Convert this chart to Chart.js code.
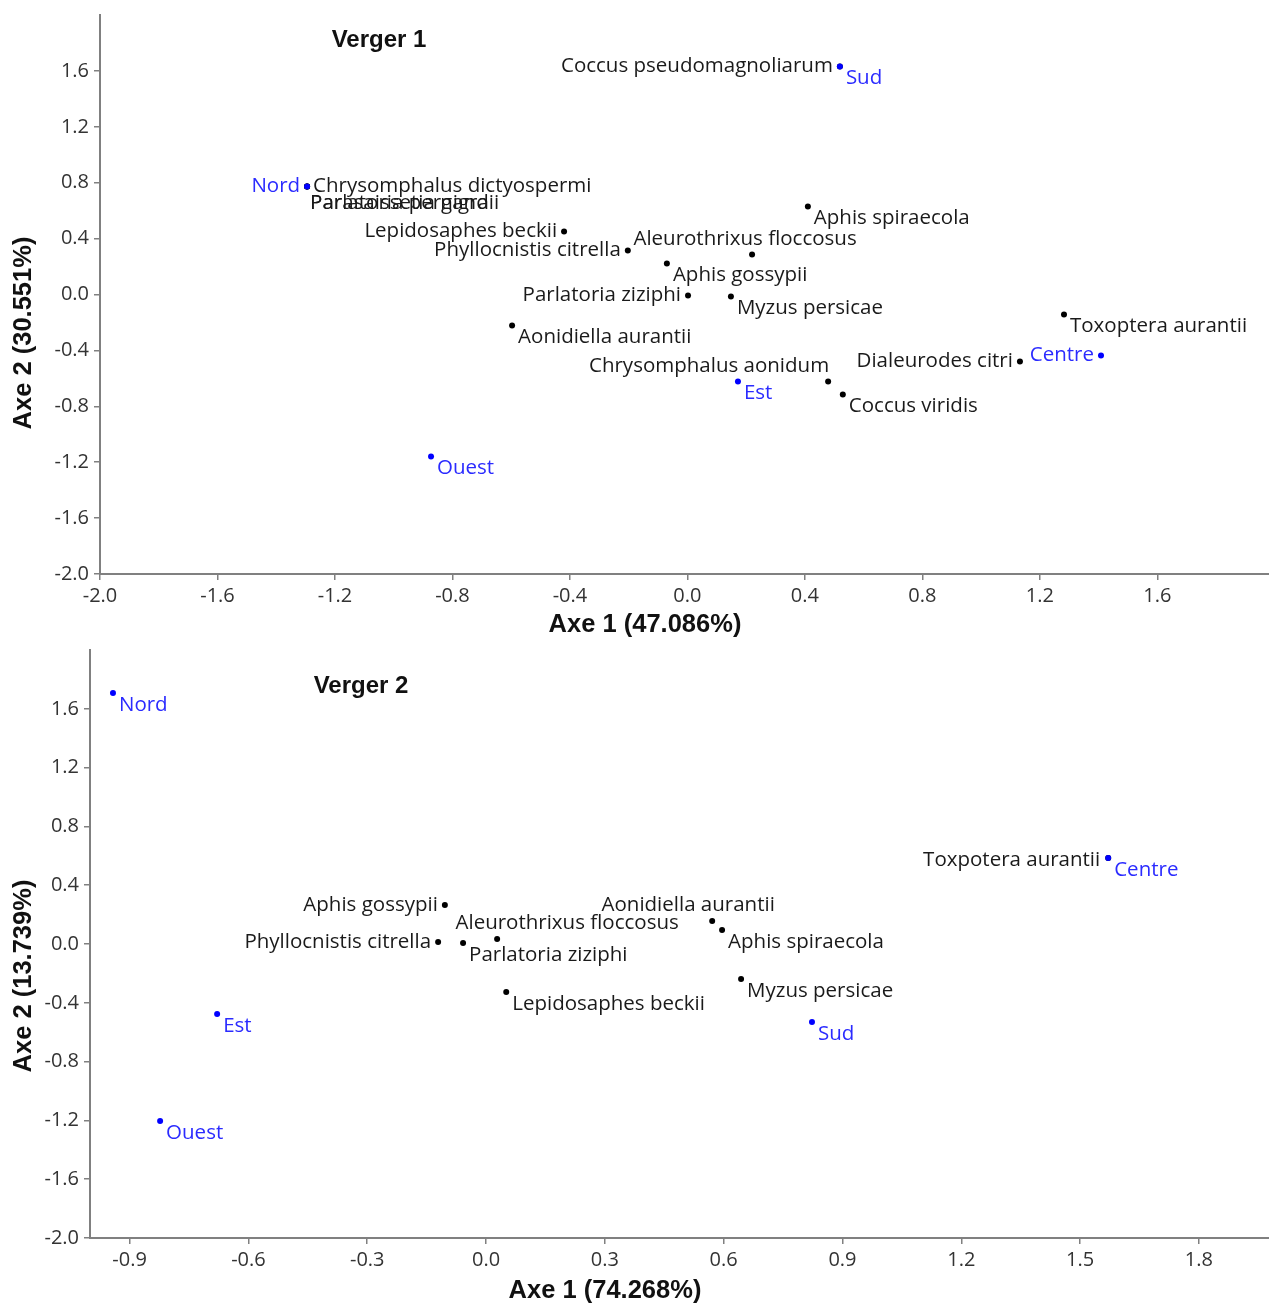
<!DOCTYPE html>
<html>
<head>
<meta charset="utf-8">
<script src="https://cdn.jsdelivr.net/npm/chart.js@4/dist/chart.umd.min.js"></script>
<style>
  html, body { margin:0; padding:0; background:#fff; }
  #w1 { position:absolute; left:0; top:0; width:1269px; height:640px; }
  #w2 { position:absolute; left:0; top:640px; width:1269px; height:665px; }
</style>
</head>
<body>
<div id="w1"><canvas id="c1"></canvas></div>
<div id="w2"><canvas id="c2"></canvas></div>
<script>
// ---------------- DATA ----------------
// Verger 1
const v1Title = 'Verger 1';
const v1AxisX = 'Axe 1 (47.086%)';
const v1AxisY = 'Axe 2 (30.551%)';
const v1Species = ['Coccus pseudomagnoliarum','Chrysomphalus dictyospermi','Parlatoria pergandii','Parasaissetia nigra','Lepidosaphes beckii','Phyllocnistis citrella','Aleurothrixus floccosus','Aphis spiraecola','Aphis gossypii','Parlatoria ziziphi','Myzus persicae','Aonidiella aurantii','Chrysomphalus aonidum','Coccus viridis','Toxoptera aurantii','Dialeurodes citri'];
const v1SpeciesX = [0.519,-1.295,-1.295,-1.295,-0.420,-0.203,0.220,0.410,-0.070,0.002,0.148,-0.597,0.479,0.529,1.282,1.132];
const v1SpeciesY = [1.632,0.773,0.773,0.773,0.451,0.315,0.286,0.630,0.222,-0.007,-0.014,-0.222,-0.623,-0.716,-0.143,-0.480];
const v1Sites = ['Nord','Sud','Est','Ouest','Centre'];
const v1SitesX = [-1.295,0.519,0.172,-0.873,1.408];
const v1SitesY = [0.773,1.632,-0.623,-1.160,-0.437];
const v1TicksX = [-2.0,-1.6,-1.2,-0.8,-0.4,0.0,0.4,0.8,1.2,1.6];
const v1TicksY = [-2.0,-1.6,-1.2,-0.8,-0.4,0.0,0.4,0.8,1.2,1.6];

// Verger 2
const v2Title = 'Verger 2';
const v2AxisX = 'Axe 1 (74.268%)';
const v2AxisY = 'Axe 2 (13.739%)';
const v2Species = ['Toxpotera aurantii','Aphis gossypii','Phyllocnistis citrella','Parlatoria ziziphi','Aleurothrixus floccosus','Aonidiella aurantii','Aphis spiraecola','Lepidosaphes beckii','Myzus persicae'];
const v2SpeciesX = [1.571,-0.104,-0.121,-0.058,0.028,0.571,0.596,0.051,0.644];
const v2SpeciesY = [0.585,0.265,0.014,0.007,0.034,0.156,0.095,-0.327,-0.238];
const v2Sites = ['Nord','Est','Ouest','Sud','Centre'];
const v2SitesX = [-0.942,-0.679,-0.823,0.823,1.571];
const v2SitesY = [1.707,-0.476,-1.204,-0.531,0.585];
const v2TicksX = [-0.9,-0.6,-0.3,0.0,0.3,0.6,0.9,1.2,1.5,1.8];
const v2TicksY = [-2.0,-1.6,-1.2,-0.8,-0.4,0.0,0.4,0.8,1.2,1.6];

// ---------------- LABEL PLACEMENT (style) ----------------
const L  = [-7, 0, 'right'];
const R  = [6, 0, 'left'];
const RB = [6, 12, 'left'];
const v1SpeciesPos = [L, R, [3,17,'left'], [3,17,'left'], L, L, [-7,-15,'center'], RB, RB, L, RB, RB, [1,-15,'right'], RB, RB, L];
const v1SitesPos = [L, RB, RB, RB, L];
const v2SpeciesPos = [[-8,2,'right'], L, L, RB, [70,-16,'center'], [-24,-16,'center'], RB, RB, RB];
const v2SitesPos = [RB, RB, RB, RB, RB];

// ---------------- STYLE ----------------
const TICK_FONT = {family:"'Open Sans', 'Noto Sans', sans-serif", size:20};
const LABEL_FONT = "20.5px 'Open Sans', 'Noto Sans', sans-serif";
const BOLD_FONT = "bold 25.5px 'Liberation Sans', Arial, sans-serif";
const TITLE_FONT = "bold 24px 'Liberation Sans', Arial, sans-serif";
const AXIS_COLOR = '#808080';
const SITE_COLOR = '#0000ff';
const SITE_TEXT = '#2b2bff';
const SP_COLOR = '#000000';
const SP_TEXT = '#1a1a1a';

const labelPlugin = {
  id: 'pointLabels',
  afterDatasetsDraw(chart) {
    const ctx = chart.ctx;
    ctx.save();
    ctx.font = LABEL_FONT;
    ctx.textBaseline = 'middle';
    chart.data.datasets.forEach((ds, di) => {
      const meta = chart.getDatasetMeta(di);
      meta.data.forEach((el, i) => {
        const p = ds.labelPos[i];
        ctx.fillStyle = ds.textColor;
        ctx.textAlign = p[2];
        ctx.fillText(ds.labels[i], el.x + p[0], el.y + p[1]);
      });
    });
    ctx.restore();
  }
};

const textPlugin = {
  id: 'texts',
  afterDraw(chart) {
    const o = chart.options.plugins.texts;
    const ctx = chart.ctx;
    ctx.save();
    ctx.fillStyle = '#111';
    ctx.textBaseline = 'middle';
    ctx.textAlign = 'center';
    ctx.font = TITLE_FONT;
    ctx.fillText(o.title, o.titleX, o.titleY);
    ctx.font = BOLD_FONT;
    ctx.fillText(o.xTitle, o.xTitleX, o.xTitleY);
    ctx.translate(o.yTitleX, o.yTitleY);
    ctx.rotate(-Math.PI/2);
    ctx.fillText(o.yTitle, 0, 0);
    ctx.restore();
  }
};

function makeChart(id, cfg) {
  const pts = (xs, ys) => xs.map((x, i) => ({x, y: ys[i]}));
  const axisOpts = (min, max, ticks, isX, size) => ({
    type: 'linear',
    min, max,
    afterBuildTicks: s => { s.ticks = ticks.map(v => ({value: v})); },
    afterFit: s => {
      if (isX) { s.height = size; s.paddingLeft = 0; s.paddingRight = 0; }
      else { s.width = size; s.paddingTop = 0; s.paddingBottom = 0; }
    },
    grid: { drawOnChartArea:false, drawTicks:true, tickLength:6, color:AXIS_COLOR, lineWidth:1.5 },
    border: { display:true, color:AXIS_COLOR, width:2 },
    ticks: { font: TICK_FONT, color:'#333', padding: isX ? 4 : 5,
             callback: v => (Math.abs(v) < 1e-9 ? 0 : v).toFixed(1), maxRotation:0, autoSkip:false }
  });
  return new Chart(document.getElementById(id), {
    type: 'scatter',
    data: {
      datasets: [
        { data: pts(cfg.sx, cfg.sy), labels: cfg.sites, labelPos: cfg.sitesPos, textColor: SITE_TEXT,
          pointRadius: 3, pointHoverRadius: 3, backgroundColor: SITE_COLOR, borderWidth: 0 },
        { data: pts(cfg.px, cfg.py), labels: cfg.species, labelPos: cfg.speciesPos, textColor: SP_TEXT,
          pointRadius: 3, pointHoverRadius: 3, backgroundColor: SP_COLOR, borderWidth: 0 }
      ]
    },
    options: {
      responsive: true, maintainAspectRatio: false, animation: false,
      layout: { autoPadding: false, padding: { top: cfg.padTop, right: 0, left: 0, bottom: 0 } },
      clip: false,
      plugins: { legend: {display:false}, tooltip: {enabled:false}, texts: cfg.texts },
      scales: {
        x: axisOpts(cfg.xmin, cfg.xmax, cfg.ticksX, true, cfg.xh),
        y: axisOpts(cfg.ymin, cfg.ymax, cfg.ticksY, false, cfg.yw)
      }
    },
    plugins: [labelPlugin, textPlugin]
  });
}

makeChart('c1', {
  species: v1Species, px: v1SpeciesX, py: v1SpeciesY, speciesPos: v1SpeciesPos,
  sites: v1Sites, sx: v1SitesX, sy: v1SitesY, sitesPos: v1SitesPos,
  ticksX: v1TicksX, ticksY: v1TicksY,
  xmin: -2.0, xmax: 1.98, ymin: -2.0, ymax: 2.0,
  padTop: 15, xh: 66, yw: 100,
  texts: { title: v1Title, titleX: 379, titleY: 40, xTitle: v1AxisX, xTitleX: 645, xTitleY: 625,
           yTitle: v1AxisY, yTitleX: 24, yTitleY: 333 }
});
makeChart('c2', {
  species: v2Species, px: v2SpeciesX, py: v2SpeciesY, speciesPos: v2SpeciesPos,
  sites: v2Sites, sx: v2SitesX, sy: v2SitesY, sitesPos: v2SitesPos,
  ticksX: v2TicksX, ticksY: v2TicksY,
  xmin: -1.0, xmax: 1.977, ymin: -2.0, ymax: 2.0,
  padTop: 10, xh: 67, yw: 90,
  texts: { title: v2Title, titleX: 361, titleY: 46, xTitle: v2AxisX, xTitleX: 605, xTitleY: 651,
           yTitle: v2AxisY, yTitleX: 24, yTitleY: 336 }
});
</script>
</body>
</html>
